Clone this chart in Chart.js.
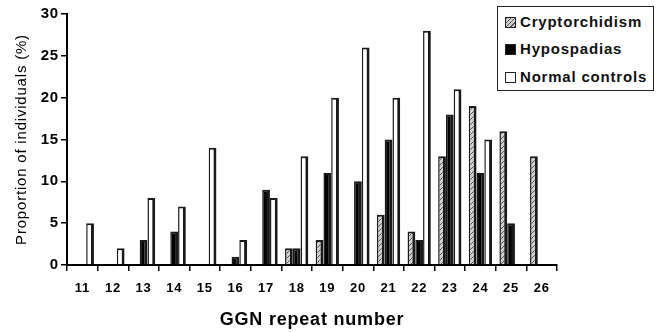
<!DOCTYPE html>
<html>
<head>
<meta charset="utf-8">
<script src="https://cdn.jsdelivr.net/npm/chart.js@4/dist/chart.umd.min.js"></script>
<style>
  html, body { margin: 0; padding: 0; background: #fff; }
  #wrap { position: relative; width: 660px; height: 332px; }
  #legend {
    position: absolute; left: 497px; top: 6px; width: 155px; height: 83px;
    border: 1.5px solid #222; background: #fff;
    font-family: "Liberation Sans", Arial, sans-serif; font-weight: bold; font-size: 15px;
    letter-spacing: 0.8px; color: #111;
  }
  .item { position: absolute; left: 7px; height: 18px; line-height: 18px; white-space: nowrap; }
  .sw { display: inline-block; width: 9px; height: 9px; border: 1px solid #222; vertical-align: middle; margin-right: 4px; position: relative; top: -1px; }
</style>
</head>
<body>
<div id="wrap">
  <canvas id="c" width="660" height="332"></canvas>
  <div id="legend"></div>
</div>
<script>
const categories = ["11","12","13","14","15","16","17","18","19","20","21","22","23","24","25","26"];
const seriesNames = ["Cryptorchidism", "Hypospadias", "Normal controls"];
const cryptorchidism = [0, 0, 0, 0, 0, 0, 0, 2, 3, 0, 6, 4, 13, 19, 16, 13];
const hypospadias    = [0, 0, 3, 4, 0, 1, 9, 2, 11, 10, 15, 3, 18, 11, 5, 0];
const normalControls = [5, 2, 8, 7, 14, 3, 8, 13, 20, 26, 20, 28, 21, 15, 0, 0];
const yTicks = [0, 5, 10, 15, 20, 25, 30];

function hatch() {
  const p = document.createElement('canvas');
  p.width = 5; p.height = 5;
  const g = p.getContext('2d');
  g.fillStyle = '#cfcfcf';
  g.fillRect(0, 0, 5, 5);
  g.strokeStyle = '#5a5a5a';
  g.lineWidth = 1;
  g.beginPath();
  g.moveTo(0, 5); g.lineTo(5, 0);
  g.moveTo(-1, 1); g.lineTo(1, -1);
  g.moveTo(4, 6); g.lineTo(6, 4);
  g.stroke();
  return g.createPattern(p, 'repeat');
}

const ctx = document.getElementById('c').getContext('2d');
const border = { top: 2, right: 3, left: 1.5, bottom: 0 };
const fills = [hatch(), '#000000', '#ffffff'];
const values = [cryptorchidism, hypospadias, normalControls];

const spacing = {
  id: 'spacing',
  beforeDraw(chart) { chart.ctx.letterSpacing = '0.8px'; }
};

new Chart(ctx, {
  type: 'bar',
  data: {
    labels: categories,
    datasets: seriesNames.map((n, i) => ({
      label: n,
      data: values[i],
      backgroundColor: fills[i],
      borderColor: '#1a1a1a',
      borderWidth: border,
      barPercentage: 1.0,
      categoryPercentage: 0.76
    }))
  },
  options: {
    responsive: false,
    animation: false,
    layout: { padding: { top: 14, right: 103, left: 0, bottom: 0 } },
    plugins: { legend: { display: false }, tooltip: { enabled: false } },
    scales: {
      x: {
        afterFit(s) { s.height = 67; },
        grid: { display: true, drawOnChartArea: false, drawTicks: true, tickLength: 6, color: '#000', lineWidth: 1.5, offset: true },
        border: { color: '#000', width: 2 },
        ticks: { color: '#000', font: { family: '"Liberation Sans", Arial, sans-serif', size: 13, weight: 'bold' }, padding: 10, maxRotation: 0 },
        title: { display: true, text: 'GGN repeat number', color: '#000',
                 font: { family: '"Liberation Sans", Arial, sans-serif', size: 18, weight: 'bold' }, padding: { top: 12, bottom: 1 } }
      },
      y: {
        min: 0, max: 30,
        afterFit(s) { s.width = 67; },
        afterBuildTicks(s) { s.ticks = yTicks.map(v => ({ value: v })); },
        grid: { display: true, drawOnChartArea: false, drawTicks: true, tickLength: 6, color: '#000', lineWidth: 1.5 },
        border: { color: '#000', width: 2 },
        ticks: { color: '#000', font: { family: '"Liberation Sans", Arial, sans-serif', size: 15, weight: 'bold' }, padding: 2 },
        title: { display: true, text: 'Proportion of individuals (%)', color: '#000',
                 font: { family: '"Liberation Sans", Arial, sans-serif', size: 15, weight: 'normal' }, padding: { top: 13, bottom: 6 } }
      }
    }
  },
  plugins: [spacing]
});

const legend = document.getElementById('legend');
const swStyles = [
  'background: repeating-linear-gradient(135deg, #5a5a5a 0 1px, #cfcfcf 1px 3px);',
  'background:#000;',
  'background:#fff;'
];
const rowTops = [6, 33, 61];
seriesNames.forEach((n, i) => {
  const d = document.createElement('div');
  d.className = 'item';
  d.style.top = rowTops[i] + 'px';
  d.innerHTML = '<span class="sw" style="' + swStyles[i] + '"></span>';
  d.appendChild(document.createTextNode(n));
  legend.appendChild(d);
});
</script>
</body>
</html>
